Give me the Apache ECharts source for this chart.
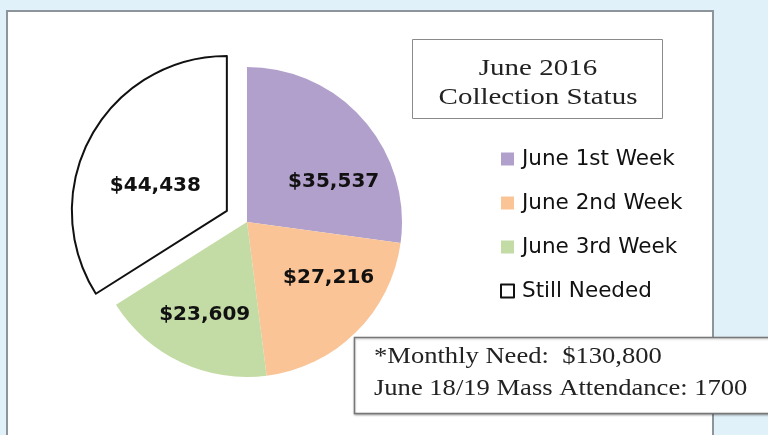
<!DOCTYPE html>
<html>
<head>
<meta charset="utf-8">
<script src="https://cdn.jsdelivr.net/npm/echarts@6/dist/echarts.min.js"></script>
<style>
  html, body { margin: 0; padding: 0; background: #e1f1f9; }
  #chart { width: 768px; height: 435px; }
</style>
</head>
<body>
<div id="chart"></div>
<script>
// slices, in clockwise order from 12 o'clock
const categories = ['June 1st Week', 'June 2nd Week', 'June 3rd Week', 'Still Needed']
const amounts = [35537, 27216, 23609, 44438]
const sliceColors = ['#b1a0cb', '#fac496', '#c3dba4', '#ffffff']
const titleLines = ['June 2016', 'Collection Status']
const noteLines = ['*Monthly Need:  $130,800', 'June 18/19 Mass Attendance: 1700']

// nudge labels where Excel puts them (further out than echarts 'inside')
const labelNudge = [[26, 13], [25, -1], [-8, 20], [-1, 14]]

const chart = echarts.init(document.getElementById('chart'))

const fmt = v => '$' + v.toLocaleString('en-US')

const option = {
  animation: false,
  backgroundColor: '#e1f1f9',
  legend: {
    orient: 'vertical',
    left: 495,
    top: 143,
    icon: 'rect',
    itemWidth: 13,
    itemHeight: 13,
    itemGap: 22,
    selectedMode: false,
    data: categories,
    textStyle: {
      fontFamily: 'DejaVu Sans',
      fontSize: 21.5,
      lineHeight: 22,
      padding: [0, 0, 0, 3],
      color: '#111'
    }
  },
  graphic: [
    {
      type: 'rect',
      z: -1,
      shape: { x: 7, y: 11, width: 706, height: 440 },
      style: { fill: '#ffffff', stroke: '#8c959c', lineWidth: 2 }
    },
    {
      type: 'group',
      z: 5,
      children: [
        {
          type: 'rect',
          shape: { x: 412.5, y: 39.5, width: 250, height: 79 },
          style: { fill: '#ffffff', stroke: '#8a8a8a', lineWidth: 1 }
        },
        {
          type: 'text',
          x: 538, y: 83,
          scaleX: 1.26,
          style: {
            text: titleLines.join('\n'),
            fontFamily: 'Liberation Serif',
            fontSize: 23,
            lineHeight: 29,
            fill: '#222',
            align: 'center',
            verticalAlign: 'middle'
          }
        }
      ]
    },
    {
      type: 'group',
      z: 10,
      children: [
        {
          type: 'rect',
          shape: { x: 354.5, y: 337.5, width: 420, height: 76 },
          style: { fill: '#ffffff', stroke: '#777', lineWidth: 1.5,
            shadowColor: 'rgba(0,0,0,0.25)', shadowBlur: 2, shadowOffsetY: 1 }
        },
        {
          type: 'text',
          x: 374, y: 373,
          scaleX: 1.155,
          style: {
            text: noteLines.join('\n'),
            fontFamily: 'Liberation Serif',
            fontSize: 23,
            lineHeight: 32,
            fill: '#222',
            align: 'left',
            verticalAlign: 'middle'
          }
        }
      ]
    }
  ],
  series: [
    {
      type: 'pie',
      center: [247, 222],
      radius: 155,
      startAngle: 90,
      clockwise: true,
      selectedMode: 'single',
      selectedOffset: 23,
      avoidLabelOverlap: false,
      label: {
        show: true,
        position: 'inside',
        formatter: p => fmt(p.value),
        fontFamily: 'DejaVu Sans',
        fontWeight: 'bold',
        fontSize: 20,
        color: '#111'
      },
      labelLine: { show: false },
      labelLayout: p => ({ dx: labelNudge[p.dataIndex][0], dy: labelNudge[p.dataIndex][1] }),
      emphasis: { disabled: true },
      data: categories.map((name, i) => {
        const style = { color: sliceColors[i], borderWidth: 0 }
        if (name === 'Still Needed') {
          style.borderColor = '#111'
          style.borderWidth = 2
        }
        return {
          name,
          value: amounts[i],
          selected: name === 'Still Needed',
          itemStyle: style,
          select: { itemStyle: style }
        }
      })
    }
  ]
}

chart.setOption(option)
</script>
</body>
</html>
